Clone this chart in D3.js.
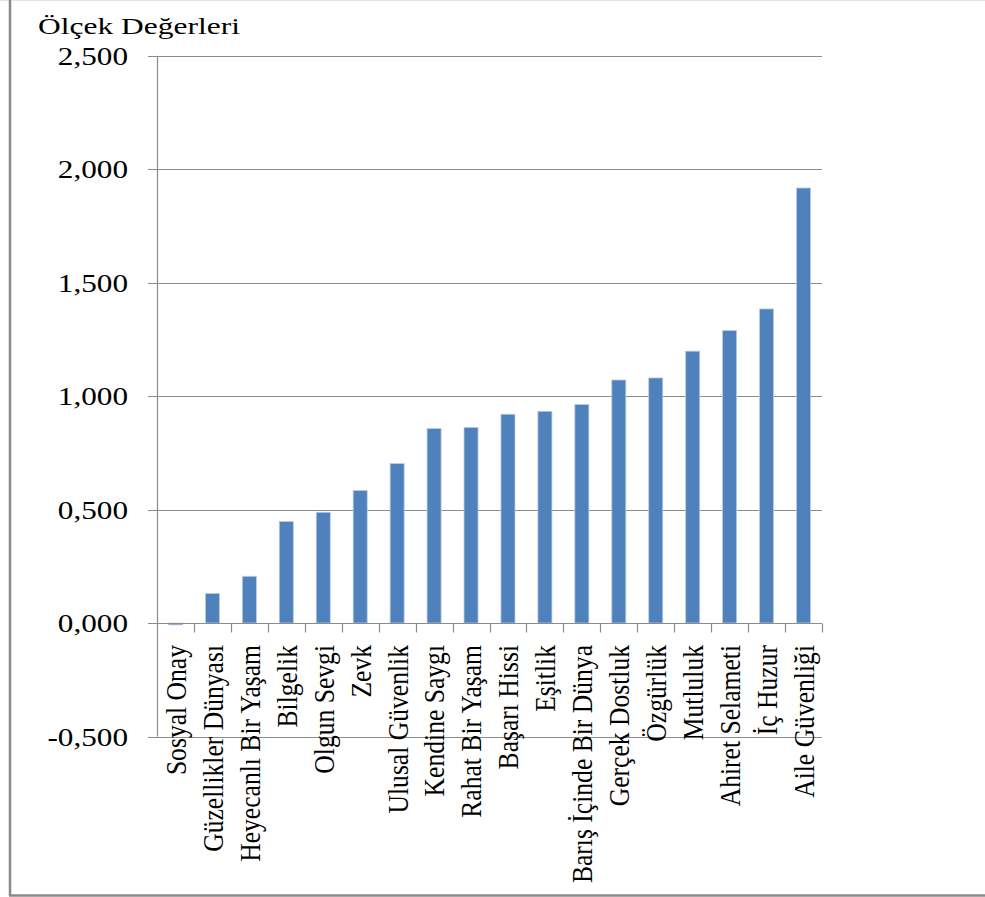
<!DOCTYPE html>
<html>
<head>
<meta charset="utf-8">
<script src="https://cdn.jsdelivr.net/npm/d3@7"></script>
<style>
  html, body { margin: 0; padding: 0; background: #fff; }
  svg { display: block; }
  text { font-family: "Liberation Serif", "Times New Roman", serif; fill: #000; }
</style>
</head>
<body>
<script>
// Value categories, ordered from lowest to highest score
const categories = [
  "Sosyal Onay", "Güzellikler Dünyası", "Heyecanlı Bir Yaşam", "Bilgelik",
  "Olgun Sevgi", "Zevk", "Ulusal Güvenlik", "Kendine Saygı", "Rahat Bir Yaşam",
  "Başarı Hissi", "Eşitlik", "Barış İçinde Bir Dünya", "Gerçek Dostluk",
  "Özgürlük", "Mutluluk", "Ahiret Selameti", "İç Huzur", "Aile Güvenliği"
];
// Scale values per category
const values = [
  -0.008, 0.130, 0.206, 0.447, 0.488, 0.584, 0.703, 0.857, 0.862,
  0.920, 0.933, 0.963, 1.071, 1.080, 1.198, 1.289, 1.384, 1.917
];
// Y axis ticks
const yTicks = [-0.5, 0, 0.5, 1.0, 1.5, 2.0, 2.5];
const yTitle = "Ölçek Değerleri";

const W = 985, H = 897;
const plot = { left: 157, right: 822, top: 55.7, bottom: 736.5 };

const svg = d3.select("body").append("svg")
  .attr("width", W).attr("height", H);

// Outer chart frame (left and bottom edges visible)
svg.append("line").attr("x1", 0).attr("x2", W).attr("y1", 0.5).attr("y2", 0.5)
  .attr("stroke", "#e4e4e4").attr("stroke-width", 1);
svg.append("line").attr("x1", 10).attr("x2", 10).attr("y1", 0).attr("y2", 896)
  .attr("stroke", "#8a8a8a").attr("stroke-width", 2.5);
svg.append("line").attr("x1", 9).attr("x2", W).attr("y1", 895.5).attr("y2", 895.5)
  .attr("stroke", "#8a8a8a").attr("stroke-width", 2.5);

const x = d3.scaleBand().domain(categories)
  .range([plot.left, plot.right]).paddingInner(0.62).paddingOuter(0.31);
const y = d3.scaleLinear().domain([-0.5, 2.5]).range([plot.bottom, plot.top]);

const trLocale = d3.formatLocale({
  decimal: ",", thousands: ".", grouping: [3], currency: ["", ""], minus: "-"
});
const fmt = trLocale.format(".3f");

const gridColor = "#8c8c8c";

// Horizontal gridlines
svg.append("g").selectAll("line").data(yTicks).join("line")
  .attr("x1", plot.left - 9).attr("x2", plot.right)
  .attr("y1", d => Math.round(y(d)) + 0.5).attr("y2", d => Math.round(y(d)) + 0.5)
  .attr("stroke", gridColor).attr("stroke-width", 1.2);

// Vertical axis line
svg.append("line")
  .attr("x1", plot.left + 0.5).attr("x2", plot.left + 0.5)
  .attr("y1", y(2.5)).attr("y2", y(-0.5))
  .attr("stroke", gridColor).attr("stroke-width", 1.2);

// Y tick labels
svg.append("g").selectAll("text").data(yTicks).join("text")
  .attr("transform", d => `translate(128,${y(d)}) scale(1.2,1)`)
  .attr("dy", "0.35em")
  .attr("text-anchor", "end")
  .style("font-size", "26px")
  .text(d => fmt(d));

// Bars
const bandStep = x.step();
svg.append("g").selectAll("rect").data(values).join("rect")
  .attr("x", (d, i) => x(categories[i]))
  .attr("width", x.bandwidth())
  .attr("y", d => Math.min(y(d), y(0)))
  .attr("height", d => Math.max(Math.abs(y(d) - y(0)), 1.5))
  .attr("fill", "#4f81bd")
  .attr("stroke", "#b9cde5").attr("stroke-width", 0.8);

// Category axis at zero with tick marks between categories
const zeroY = Math.round(y(0)) + 0.5;
svg.append("line").attr("x1", plot.left).attr("x2", plot.right)
  .attr("y1", zeroY).attr("y2", zeroY)
  .attr("stroke", gridColor).attr("stroke-width", 1.2);
const boundaries = d3.range(categories.length + 1).map(i => plot.left + i * bandStep);
svg.append("g").selectAll("line").data(boundaries.slice(1)).join("line")
  .attr("x1", d => Math.round(d) + 0.5).attr("x2", d => Math.round(d) + 0.5)
  .attr("y1", zeroY).attr("y2", zeroY + 9)
  .attr("stroke", gridColor).attr("stroke-width", 1.2);

// Rotated category labels
svg.append("g").selectAll("text").data(categories).join("text")
  .attr("transform", d => `translate(${x(d) + x.bandwidth() / 2},645) scale(1.16,1) rotate(-90)`)
  .attr("dy", "0.35em")
  .attr("text-anchor", "end")
  .style("font-size", "25.6px")
  .text(d => d);

// Axis title
svg.append("text")
  .attr("transform", "translate(38,34) scale(1.4,1)")
  .style("font-size", "22.5px")
  .text(yTitle);
</script>
</body>
</html>
